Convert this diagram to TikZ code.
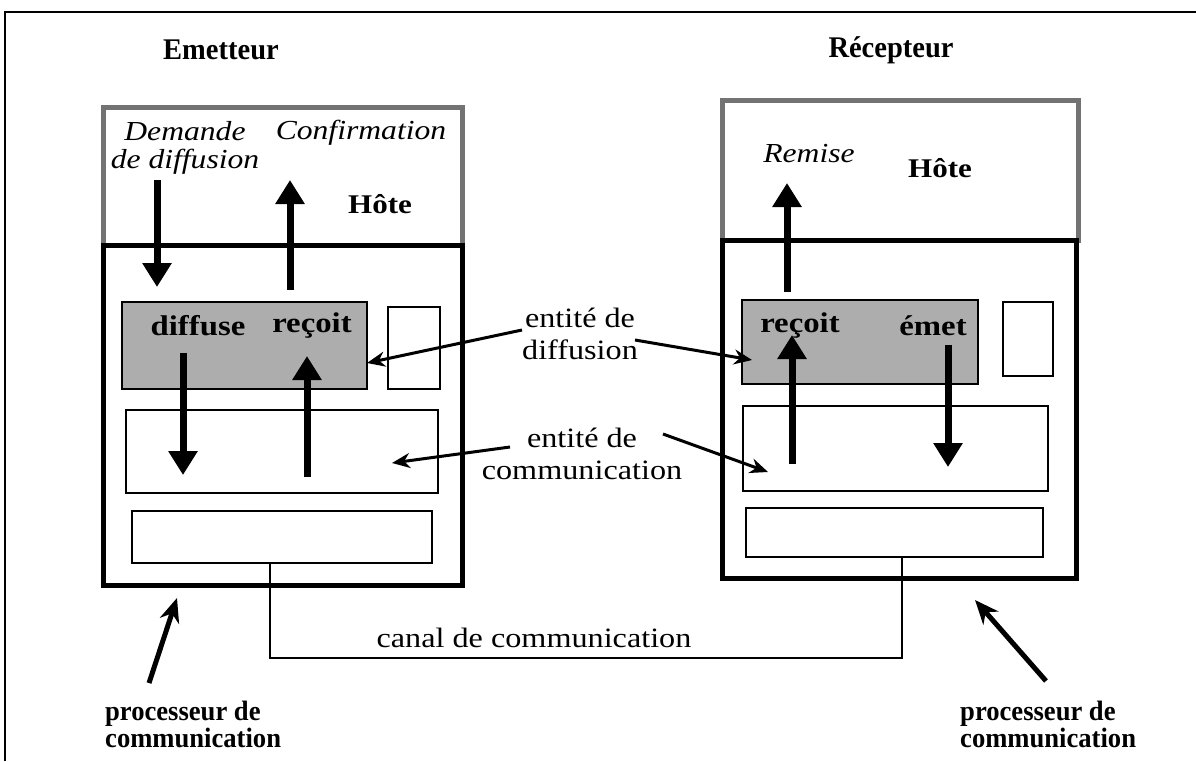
\documentclass[tikz,border=0pt]{standalone}
\usepackage{fontspec}
\setmainfont{Liberation Serif}[FakeStretch=1.15]
\newfontfamily\condfont{Liberation Serif}[FakeStretch=0.95]
\usetikzlibrary{arrows.meta}
\begin{document}
\begin{tikzpicture}[x=1pt,y=-1pt,
  box/.style={draw=black, line width=2pt, inner sep=0pt, outer sep=0pt},
  hostbox/.style={draw=black!55, line width=5pt, inner sep=0pt, outer sep=0pt},
  procbox/.style={draw=black, line width=5pt, inner sep=0pt, outer sep=0pt},
  graybox/.style={box, fill=black!32},
  txt/.style={inner sep=0pt, font=\fontsize{28}{32}\selectfont, align=center},
  btxt/.style={inner sep=0pt, font=\fontsize{27}{30}\selectfont\bfseries},
  etxt/.style={inner sep=0pt, font=\fontsize{28.5}{30}\selectfont\bfseries},
  ttxt/.style={inner sep=0pt, font=\fontsize{30}{32}\selectfont\condfont\bfseries},
  ptxt/.style={inner sep=0pt, align=left, anchor=west, font=\fontsize{28}{27}\selectfont\condfont\bfseries},
  itxt/.style={inner sep=0pt, align=center, font=\fontsize{27.5}{28}\selectfont\itshape},
  bigarrow/.style={line width=7pt, -{Triangle[length=24pt,width=28pt]}},
  ptr/.style={line width=3pt, -{Stealth[length=18pt,width=15pt]}},
  procptr/.style={line width=5pt, -{Stealth[length=24pt,width=20pt]}},
  wire/.style={line width=1.5pt}
]
\useasboundingbox (0,0) rectangle (1196,761);
% frame
\draw[line width=2.5pt] (5,761) -- (5,12) -- (1196,12);

% titles
\node[ttxt] (titleL) at (221,50) {Emetteur};
\node[ttxt] (titleR) at (891,50) {Récepteur};

% ---- left system
\node[hostbox, minimum width=359pt, minimum height=138pt] (hostL) at (282.5,176) {};
\node[procbox, minimum width=359pt, minimum height=340pt] (procL) at (282.5,415) {};
\node[graybox, minimum width=245pt, minimum height=87pt] (diffL) at (244.5,345.5) {};
\node[box, minimum width=52pt, minimum height=82pt] (smallL) at (414,348) {};
\node[box, minimum width=312pt, minimum height=83pt] (commL) at (282,451.5) {};
\node[box, minimum width=300pt, minimum height=52pt] (botL) at (282,537) {};

\node[itxt] (demande) at (185,148) {Demande\\de diffusion};
\node[itxt] (confirm) at (361,133) {Confirmation};
\node[btxt] (hoteL) at (380,204) {Hôte};
\node[etxt] (diffuse) at (198,326) {diffuse};
\node[etxt] (recoitL) at (312,326) {reçoit};

\coordinate (a1s) at (157,180); \coordinate (a1e) at (157,287);
\coordinate (a2s) at (290,290); \coordinate (a2e) at (290,180);
\coordinate (a3s) at (183,353); \coordinate (a3e) at (183,475);
\coordinate (a4s) at (307,477); \coordinate (a4e) at (307,356);
\draw[bigarrow] (a1s) -- (a1e);
\draw[bigarrow] (a2s) -- (a2e);
\draw[bigarrow] (a3s) -- (a3e);
\draw[bigarrow] (a4s) -- (a4e);

% ---- right system
\node[hostbox, minimum width=356pt, minimum height=140pt] (hostR) at (900,170) {};
\node[procbox, minimum width=354pt, minimum height=338pt] (procR) at (899,409) {};
\node[graybox, minimum width=236pt, minimum height=84pt] (diffR) at (860,342) {};
\node[box, minimum width=50pt, minimum height=74pt] (smallR) at (1028,339) {};
\node[box, minimum width=305pt, minimum height=85pt] (commR) at (895.5,448.5) {};
\node[box, minimum width=297pt, minimum height=49pt] (botR) at (894.5,532.5) {};

\node[itxt] (remise) at (809,154) {Remise};
\node[btxt] (hoteR) at (940,168) {Hôte};
\node[etxt] (recoitR) at (800,326) {reçoit};
\node[etxt] (emet) at (933,326) {émet};

\coordinate (b1s) at (787,292); \coordinate (b1e) at (787,183);
\coordinate (b2s) at (792,464); \coordinate (b2e) at (792,335);
\coordinate (b3s) at (948,345); \coordinate (b3e) at (948,467);
\draw[bigarrow] (b1s) -- (b1e);
\draw[bigarrow] (b2s) -- (b2e);
\draw[bigarrow] (b3s) -- (b3e);

% ---- middle labels
\node[txt] (ediff) at (580,334) {entité de\\diffusion};
\node[txt] (ecomm) at (582,454) {entité de\\communication};
\coordinate (o1) at (522,330);
\coordinate (o2) at (635,340);
\coordinate (o3) at (510,447);
\coordinate (o4) at (663,434);
\coordinate (p1) at (367,363);
\coordinate (p2) at (752,360);
\coordinate (p3) at (392,463);
\coordinate (p4) at (768,472);
\draw[ptr] (o1) -- (p1);
\draw[ptr] (o2) -- (p2);
\draw[ptr] (o3) -- (p3);
\draw[ptr] (o4) -- (p4);

% ---- channel
\coordinate (cL) at (270,658);
\coordinate (cR) at (902,658);
\draw[wire] (botL.south -| cL) -- (cL) -- (cR) -- (botR.south -| cR);
\node[txt] (canal) at (534,638) {canal de communication};

% ---- processors
\node[ptxt] (procLabL) at (105,724) {processeur de\\communication};
\node[ptxt] (procLabR) at (960,724) {processeur de\\communication};
\coordinate (q0) at (149,683);
\coordinate (q1) at (177,598);
\coordinate (q3) at (1046,681);
\coordinate (q2) at (975,600);
\draw[procptr] (q0) -- (q1);
\draw[procptr] (q3) -- (q2);
\end{tikzpicture}
\end{document}
